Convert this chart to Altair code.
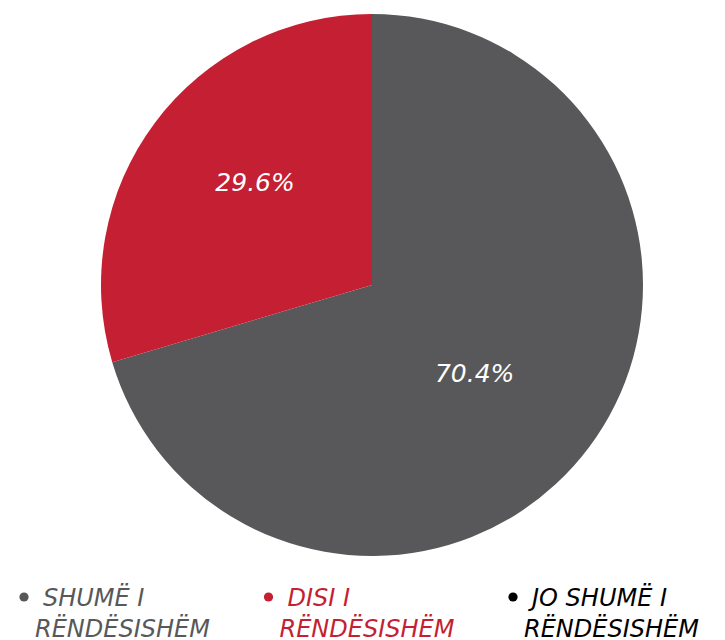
import altair as alt
import pandas as pd

categories = ["SHUMË I RËNDËSISHËM", "DISI I RËNDËSISHËM", "JO SHUMË I RËNDËSISHËM"]
line1 = ["SHUMË I", "DISI I", "JO SHUMË I"]
line2 = ["RËNDËSISHËM", "RËNDËSISHËM", "RËNDËSISHËM"]
values = [70.4, 29.6, 0.0]
colors = ["#58585a", "#c41f32", "#000000"]

df = pd.DataFrame({
    "cat": categories,
    "line1": line1,
    "line2": line2,
    "value": values,
    "order": [0, 1, 2],
})
df["label"] = [f"{v:.1f}%" for v in values]

FONT = "DejaVu Sans"
color = alt.Color("cat:N", scale=alt.Scale(domain=categories, range=colors), legend=None)
base = alt.Chart(df)

pie = base.mark_arc(outerRadius=271).encode(
    theta=alt.Theta("value:Q", stack=True),
    order=alt.Order("order:Q"),
    color=color,
    x=alt.value(372),
    y=alt.value(285),
)

def label_layer(cat, radius):
    return base.mark_text(
        radius=radius, thetaOffset=0.075, font=FONT, fontSize=25,
        fontStyle="italic", color="white"
    ).encode(
        theta=alt.Theta("value:Q", stack=True),
        order=alt.Order("order:Q"),
        text="label:N",
        x=alt.value(372),
        y=alt.value(285),
        opacity=alt.condition(alt.datum.cat == cat, alt.value(1), alt.value(0)),
    )

labels_gray = label_layer(categories[0], 136)
labels_red = label_layer(categories[1], 155)

xleg = alt.X("cat:N", sort=categories,
             scale=alt.Scale(domain=categories, range=[24, 513], padding=0), axis=None)

dots = base.mark_point(filled=True, opacity=1, size=85, shape="circle").encode(
    x=xleg, y=alt.value(597), color=color
)
t1 = base.mark_text(align="left", baseline="alphabetic", dx=19, font=FONT,
                    fontSize=24, fontStyle="italic").encode(
    x=xleg, y=alt.value(606), text="line1:N", color=color
)
t2 = base.mark_text(align="left", baseline="alphabetic", dx=11, font=FONT,
                    fontSize=24, fontStyle="italic").encode(
    x=xleg, y=alt.value(637), text="line2:N", color=color
)

chart = alt.layer(pie, labels_gray, labels_red, dots, t1, t2).properties(
    width=725, height=640, autosize="none", padding=0
).configure_view(stroke=None)

chart.save("out.html", embed_options={"renderer": "svg", "actions": False})
